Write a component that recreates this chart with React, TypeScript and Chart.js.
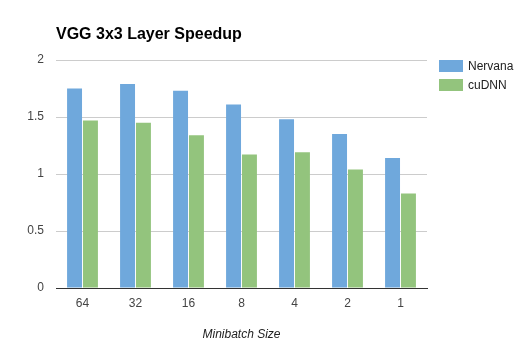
import React, { useEffect, useRef } from "react";
import { Chart, registerables } from "chart.js";

Chart.register(...registerables);

const categories = ["64", "32", "16", "8", "4", "2", "1"];
const nervana = [1.75, 1.79, 1.73, 1.61, 1.48, 1.35, 1.14];
const cudnn = [1.47, 1.45, 1.34, 1.17, 1.19, 1.04, 0.83];
const seriesNames = ["Nervana", "cuDNN"];
const seriesColors = ["#6fa8dc", "#93c47d"];
const yTicks = [0, 0.5, 1, 1.5, 2];

const FONT = "Arial, 'Liberation Sans', sans-serif";

const legendPlugin = {
  id: "customLegend",
  afterDraw(chart: any) {
    const { ctx, chartArea } = chart;
    ctx.save();
    ctx.font = `12px ${FONT}`;
    ctx.textBaseline = "middle";
    ctx.textAlign = "left";
    seriesNames.forEach((name, i) => {
      const x = chartArea.right + 12;
      const y = chartArea.top + i * 19;
      ctx.fillStyle = seriesColors[i];
      ctx.fillRect(x, y, 24, 12);
      ctx.fillStyle = "#222222";
      ctx.fillText(name, x + 29, y + 6.5);
    });
    ctx.restore();
  },
};

export default function App() {
  const ref = useRef<HTMLCanvasElement | null>(null);

  useEffect(() => {
    document.body.style.margin = "0";
    const canvas = ref.current;
    if (!canvas) return;
    const chart = new Chart(canvas, {
      type: "bar",
      data: {
        labels: categories,
        datasets: [
          {
            label: seriesNames[0],
            data: nervana,
            backgroundColor: seriesColors[0],
            borderWidth: 0,
            categoryPercentage: 0.6,
            barPercentage: 0.94,
          },
          {
            label: seriesNames[1],
            data: cudnn,
            backgroundColor: seriesColors[1],
            borderWidth: 0,
            categoryPercentage: 0.6,
            barPercentage: 0.94,
          },
        ],
      },
      options: {
        animation: false,
        responsive: false,
        maintainAspectRatio: false,
        layout: { padding: { left: 0, right: 92, top: 0, bottom: 0 } },
        plugins: {
          legend: { display: false },
          tooltip: { enabled: false },
          title: {
            display: true,
            text: "VGG 3x3 Layer Speedup",
            align: "start",
            fullSize: false,
            color: "#000000",
            font: { family: FONT, size: 16, weight: "bold" },
            padding: { top: 24.5, bottom: 16.3 },
          },
        },
        scales: {
          x: {
            grid: { display: false, drawTicks: false },
            border: { display: true, color: "#333333", width: 1 },
            ticks: {
              color: "#444444",
              font: { family: FONT, size: 12 },
              padding: 8,
              maxRotation: 0,
            },
            title: {
              display: true,
              text: "Minibatch Size",
              color: "#222222",
              font: { family: FONT, size: 12, style: "italic" },
              padding: { top: 4, bottom: 10 },
            },
            afterFit: (s: any) => {
              s.height = 64;
            },
          },
          y: {
            min: 0,
            max: 2,
            afterBuildTicks: (s: any) => {
              s.ticks = yTicks.map((v) => ({ value: v }));
            },
            grid: { color: "#cccccc", drawTicks: false },
            border: { display: false },
            ticks: {
              color: "#444444",
              font: { family: FONT, size: 12 },
              padding: 12,
              callback: (v: any) => String(v),
            },
            afterFit: (s: any) => {
              s.width = 56;
            },
          },
        },
      },
      plugins: [legendPlugin],
    });
    return () => chart.destroy();
  }, []);

  return (
    <div style={{ width: 519, height: 352, background: "#ffffff" }}>
      <canvas ref={ref} width={519} height={352} style={{ display: "block" }} />
    </div>
  );
}
